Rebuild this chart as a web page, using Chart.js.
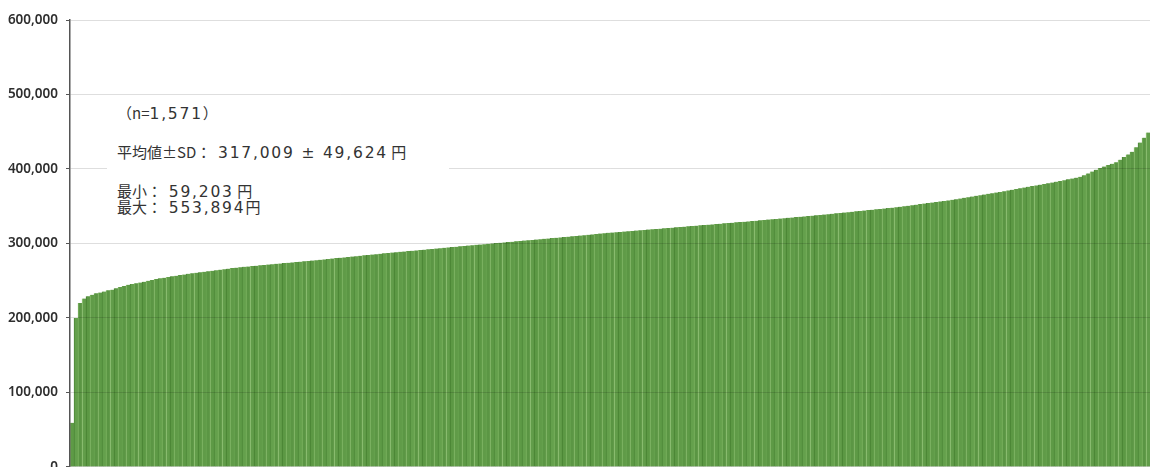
<!DOCTYPE html>
<html>
<head>
<meta charset="utf-8">
<script src="https://cdn.jsdelivr.net/npm/chart.js@4/dist/chart.umd.min.js"></script>
<style>
  html, body { margin: 0; padding: 0; background: #fff; overflow: hidden; }
  #wrap { position: relative; width: 1150px; height: 483px; }
  #note { position: absolute; left: 107px; top: 100px; width: 342px; height: 133px; background: #fff; }
  .ln { position: absolute; left: 10px; white-space: nowrap; font-family: "Noto Sans CJK JP", "Noto Sans", sans-serif; font-size: 15px; color: #333; line-height: 1; }
  .num { font-family: "DejaVu Sans", "Noto Sans", sans-serif; font-size: 15.5px; letter-spacing: 1.8px; }
</style>
</head>
<body>
<div id="wrap">
  <canvas id="c"></canvas>
  <div id="note">
    <div class="ln" id="l1" style="top:5px"></div>
    <div class="ln" id="l2" style="top:44px"></div>
    <div class="ln" id="l3" style="top:83px"></div>
    <div class="ln" id="l4" style="top:99px"></div>
  </div>
</div>
<script>
// Summary statistics shown in the annotation
const sampleN = "1,571";
const meanText = "317,009";
const sdText = "49,624";
const minText = "59,203";
const maxText = "553,894";

// Y-axis ticks
const yTicks = [0, 100000, 200000, 300000, 400000, 500000, 600000];

// Sorted values (yen) left to right
const values = [
59203, 200000, 220000, 226000, 229000, 231000, 233000, 234000, 235500, 237000,
238000, 240000, 241500, 243000, 244500, 245500, 246500, 247500, 248500, 249800,
251000, 252200, 253200, 254000, 255000, 255800, 256600, 257500, 258300, 259200,
260000, 260700, 261400, 262000, 262700, 263400, 264000, 264800, 265500, 266200,
266900, 267500, 268100, 268600, 269100, 269600, 270100, 270600, 271100, 271600,
272100, 272600, 273100, 273600, 274100, 274500, 275000, 275500, 276000, 276500,
277000, 277600, 278100, 278600, 279200, 279700, 280300, 280800, 281300, 281900,
282400, 282900, 283500, 284000, 284600, 285100, 285600, 286200, 286700, 287300,
287700, 288200, 288700, 289200, 289700, 290200, 290700, 291200, 291700, 292200,
292700, 293200, 293700, 294200, 294700, 295200, 295600, 296100, 296600, 297100,
297600, 298100, 298600, 299000, 299500, 300000, 300500, 301000, 301400, 301900,
302300, 302800, 303300, 303800, 304200, 304700, 305200, 305700, 306200, 306700,
307200, 307600, 308100, 308600, 309100, 309600, 310100, 310600, 311100, 311600,
312100, 312600, 313200, 313700, 314200, 314600, 315100, 315500, 316000, 316400,
316800, 317300, 317700, 318200, 318600, 319000, 319500, 319900, 320400, 320800,
321200, 321700, 322100, 322500, 323000, 323400, 323900, 324300, 324700, 325200,
325600, 326100, 326500, 327000, 327400, 327800, 328300, 328700, 329100, 329600,
330000, 330500, 331000, 331500, 332000, 332400, 332900, 333400, 333900, 334400,
334900, 335400, 335800, 336300, 336800, 337300, 337800, 338300, 338800, 339300,
339800, 340400, 340900, 341500, 342000, 342600, 343100, 343700, 344200, 344800,
345300, 345800, 346400, 346900, 347500, 348000, 348600, 349200, 349900, 350600,
351300, 352100, 352800, 353500, 354200, 355000, 355700, 356400, 357100, 357800,
358600, 359500, 360400, 361300, 362100, 363000, 363900, 364800, 365700, 366600,
367500, 368400, 369200, 370200, 371200, 372100, 373100, 374000, 375000, 376000,
377000, 377900, 378900, 379800, 380800, 381800, 382900, 383900, 385000, 386100,
387200, 388300, 389500, 391600, 394000, 396500, 399000, 401400, 403300, 405200,
407000, 409000, 412500, 416000, 419500, 423000, 429000, 435500, 442000, 449000
];

// Categories: rank of each bar
const categories = values.map((v, i) => String(i + 1));

const fillShades = ['#5e9a46', '#64a04c', '#5a9543', '#629d4a', '#5c9844', '#609b48', '#5b9644'];
const edgeShades = ['#8fc174', '#4c8636', '#7db562', '#9ccb82', '#457f30', '#86bb6b', '#6aa552'];

document.getElementById('l1').innerHTML = '（n=<span class="num">' + sampleN + '</span>）';
document.getElementById('l2').innerHTML = '平均値±SD：<span class="num"> ' + meanText + ' ±  ' + sdText + '</span> 円';
document.getElementById('l3').innerHTML = '最小：<span class="num"> ' + minText + '</span> 円';
document.getElementById('l4').innerHTML = '最大：<span class="num"> ' + maxText + '</span>円';

new Chart(document.getElementById('c'), {
  type: 'bar',
  data: {
    labels: categories,
    datasets: [{
      data: values,
      backgroundColor: (ctx) => fillShades[ctx.dataIndex % fillShades.length],
      borderColor: (ctx) => edgeShades[ctx.dataIndex % edgeShades.length],
      borderWidth: { left: 1, right: 0, top: 0, bottom: 0 },
      borderSkipped: false,
      barPercentage: 1.0,
      categoryPercentage: 1.0
    }]
  },
  options: {
    responsive: true,
    maintainAspectRatio: false,
    animation: false,
    layout: { padding: { top: 20, bottom: 11, left: 0, right: 0 } },
    plugins: { legend: { display: false }, tooltip: { enabled: false } },
    scales: {
      x: { display: false, offset: true },
      y: {
        z: 1,
        min: 0,
        max: 600000,
        afterBuildTicks: (scale) => { scale.ticks = yTicks.map(v => ({ value: v })); },
        afterFit: (scale) => { scale.width = 70; },
        border: { display: true, color: '#555', width: 1.5, z: 1 },
        grid: { z: 1, color: 'rgba(0,0,0,0.13)', lineWidth: 1, tickLength: 4, tickColor: '#555' },
        ticks: {
          padding: 8,
          color: '#2e2e2e',
          font: { family: 'Noto Sans', size: 13.5, weight: '600' },
          callback: (v) => v.toLocaleString('en-US')
        }
      }
    }
  }
});
</script>
</body>
</html>
